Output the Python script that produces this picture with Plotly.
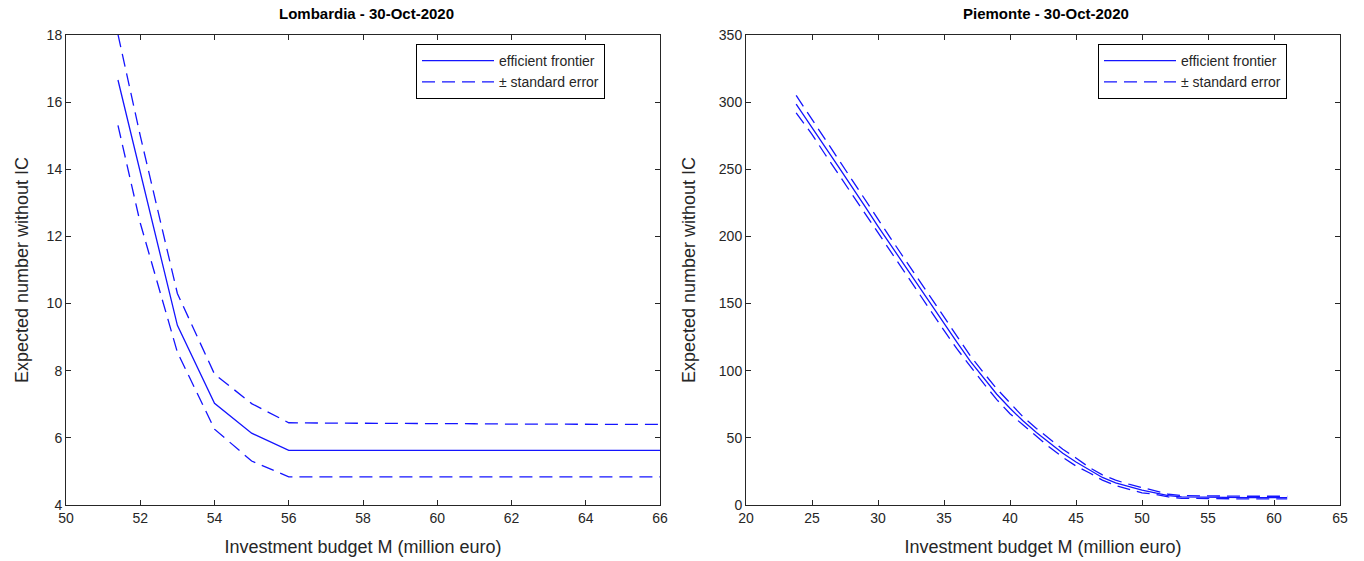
import plotly.graph_objects as go

# ---------------- data ----------------
lom_budget = [51.4, 52, 53, 54, 55, 56, 57, 58, 59, 60, 61, 62, 63, 64, 65, 66]
lom_frontier = [16.66, 13.9, 9.35, 7.03, 6.14, 5.63, 5.63, 5.63, 5.63, 5.63, 5.63, 5.63, 5.63, 5.63, 5.63, 5.63]
lom_upper = [18.02, 15.0, 10.3, 7.9, 7.02, 6.45, 6.44, 6.44, 6.43, 6.42, 6.42, 6.41, 6.41, 6.40, 6.40, 6.40]
lom_lower = [15.31, 12.4, 8.55, 6.26, 5.31, 4.84, 4.84, 4.84, 4.84, 4.84, 4.84, 4.84, 4.84, 4.84, 4.84, 4.84]

pie_budget = [23.8, 25, 26, 27, 28, 29, 30, 31, 32, 33, 34, 35, 36, 37, 38, 39, 40, 41, 42,
              43, 44, 45, 46, 47, 48, 49, 50, 51, 52, 53, 54, 55, 56, 57, 58, 59, 60, 61]
pie_frontier = [298.5, 281.5, 266.5, 252, 237.5, 222.5, 207.5, 193, 178.5, 164, 149.5, 135, 121,
                107, 94.5, 82.5, 72, 62.5, 54, 46, 38.5, 32, 26, 20.5, 16.5, 13.5, 11, 9, 7,
                6, 5.8, 5.7, 5.6, 5.6, 5.5, 5.5, 5.5, 5.5]
pie_upper = [305, 287, 272, 257.5, 243, 228, 213, 198, 183.5, 169, 154.5, 140, 126, 111, 98.5,
             86.5, 76, 65.5, 57, 49, 41.5, 35, 28, 22.5, 18.5, 15.5, 13, 10, 8, 7, 6.8, 6.7,
             6.6, 6.6, 6.5, 6.5, 6.5, 6.5]
pie_lower = [292, 276, 261, 246.5, 232, 217, 202, 188, 173.5, 159, 144.5, 130, 116, 103, 90.5,
             78.5, 68, 59.5, 51, 43, 35.5, 29, 24, 18.5, 14.5, 11.5, 9, 8, 6, 5, 4.8, 4.7,
             4.6, 4.6, 4.5, 4.5, 4.5, 4.5]

titles = ["Lombardia - 30-Oct-2020", "Piemonte - 30-Oct-2020"]
x_title = "Investment budget M (million euro)"
y_title = "Expected number without IC"
name_frontier = "efficient frontier"
name_se = "\u00b1 standard error"

# ---------------- style ----------------
W, H = 1364, 561
BLUE = "rgb(20,20,255)"
AX = "#262626"
FONT = "Liberation Sans, Arial, Helvetica, sans-serif"
DASH = "13px,7px"

def px_x(p):
    return p / W

def px_y(p):
    return 1 - p / H

fig = go.Figure()

def add_panel(xs, fr, up, lo, xa, ya, legend):
    fig.add_trace(go.Scatter(x=xs, y=fr, mode="lines", name=name_frontier,
                             line=dict(color=BLUE, width=1.3), xaxis=xa, yaxis=ya,
                             legend=legend, showlegend=True))
    fig.add_trace(go.Scatter(x=xs, y=up, mode="lines", name=name_se,
                             line=dict(color=BLUE, width=1.3, dash=DASH), xaxis=xa, yaxis=ya,
                             legend=legend, showlegend=True))
    fig.add_trace(go.Scatter(x=xs, y=lo, mode="lines", name=name_se,
                             line=dict(color=BLUE, width=1.3, dash=DASH), xaxis=xa, yaxis=ya,
                             legend=legend, showlegend=False))

add_panel(lom_budget, lom_frontier, lom_upper, lom_lower, "x", "y", "legend")
add_panel(pie_budget, pie_frontier, pie_upper, pie_lower, "x2", "y2", "legend2")

ydom = [px_y(505), px_y(35)]
ax_common = dict(showline=True, linecolor=AX, linewidth=1, mirror="ticks", ticks="inside",
                 ticklen=5, tickcolor=AX, showgrid=False, zeroline=False, automargin=False,
                 tickfont=dict(family=FONT, size=14, color=AX))
xt = dict(text=x_title, font=dict(size=18, color=AX), standoff=15)
yt1 = dict(text=y_title, font=dict(size=18, color=AX), standoff=13)
yt2 = dict(text=y_title, font=dict(size=18, color=AX), standoff=18)
leg_common = dict(xanchor="right", yanchor="top", bordercolor="#000000", borderwidth=1,
                  bgcolor="white", font=dict(family=FONT, size=14, color=AX),
                  tracegroupgap=0, itemwidth=72)

fig.update_layout(
    width=W, height=H,
    margin=dict(l=0, r=0, t=0, b=0, autoexpand=False),
    paper_bgcolor="white", plot_bgcolor="white",
    font=dict(family=FONT, color=AX),
    xaxis=dict(domain=[px_x(66), px_x(660)], range=[50, 66], dtick=2, anchor="y",
               title=xt, **ax_common),
    yaxis=dict(domain=ydom, range=[4, 18], dtick=2, anchor="x", title=yt1, **ax_common),
    xaxis2=dict(domain=[px_x(746), px_x(1340)], range=[20, 65], dtick=5, anchor="y2",
                title=xt, **ax_common),
    yaxis2=dict(domain=ydom, range=[0, 350], dtick=50, anchor="x2", title=yt2, **ax_common),
    legend=dict(x=px_x(605), y=px_y(44), **leg_common),
    legend2=dict(x=px_x(1287), y=px_y(44), **leg_common),
    annotations=[
        dict(text="<b>" + titles[0] + "</b>", x=px_x(366), y=px_y(14), xref="paper", yref="paper",
             showarrow=False, xanchor="center", yanchor="middle",
             font=dict(family=FONT, size=15, color="#000000")),
        dict(text="<b>" + titles[1] + "</b>", x=px_x(1046), y=px_y(14), xref="paper", yref="paper",
             showarrow=False, xanchor="center", yanchor="middle",
             font=dict(family=FONT, size=15, color="#000000")),
    ],
)

fig.write_html("out.html", config={"displayModeBar": False},
               post_script="document.body.style.margin='0';document.body.style.overflow='hidden';")
